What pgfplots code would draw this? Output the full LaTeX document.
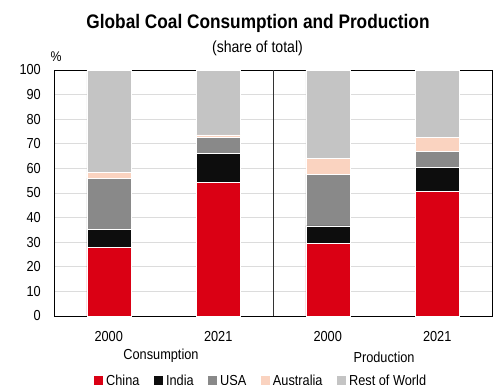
\documentclass[border=0pt]{standalone}
\usepackage{pgfplots}
\pgfplotsset{compat=1.18}
\usepackage{fontspec}
\setmainfont{Liberation Sans}[FakeStretch=0.88]

\definecolor{cChina}{HTML}{DA0014}
\definecolor{cIndia}{HTML}{0D0D0D}
\definecolor{cUSA}{HTML}{898989}
\definecolor{cAus}{HTML}{FAD3C0}
\definecolor{cRest}{HTML}{C4C4C4}
\definecolor{gridgray}{HTML}{DCDCDC}

\newcommand{\lab}{\fontsize{14.5}{17}\selectfont}

\begin{document}
\begin{tikzpicture}[x=1pt,y=1pt]
\useasboundingbox (0,0) rectangle (498,-385);
\clip (0,0) rectangle (498,-385);

\node[anchor=base] at (258,-28.5) {\fontsize{19.6}{22}\selectfont\bfseries Global Coal Consumption and Production};
\node[anchor=base] at (257.5,-52.5) {\fontsize{16}{18}\selectfont (share of total)};
\node[anchor=base,inner sep=0pt] at (56,-62) {\fontsize{14}{16}\selectfont \%};

\begin{axis}[
  at={(54pt,-316pt)}, anchor=south west,
  scale only axis, width=438pt, height=246pt,
  clip=false,
  ybar stacked, bar width=44pt,
  xmin=-0.5, xmax=3.5, ymin=0, ymax=100,
  xtick={0,1,2,3}, xticklabels={2000,2021,2000,2021},
  ytick={0,10,...,100},
  extra x ticks={1.5}, extra x tick labels={},
  extra x tick style={xmajorgrids=true, major grid style={black!80, line width=0.8pt}},
  ymajorgrids, major grid style={gridgray, line width=0.8pt},
  major tick length=0pt,
  axis line style={black, line width=0.8pt},
  /pgf/number format/assume math mode=true,
  yticklabel style={font=\lab, anchor=east, inner sep=0pt, xshift=-13pt},
  xticklabel style={font=\lab, anchor=base, inner sep=0pt, yshift=-25pt},
  legend columns=5,
  legend style={at={(axis description cs:0.0913,-0.238)}, anchor=north west,
    draw=none, fill=none, inner sep=0pt, font=\lab,
    nodes={inner sep=0pt, anchor=base west},
    /tikz/every odd column/.append style={column sep=3pt},
    /tikz/every even column/.append style={column sep=14.5pt}},
  legend image code/.code={\fill[#1, draw=none] (0pt,0pt) rectangle (9pt,9pt);},
]
\addplot[fill=cChina, draw=white, line width=0.4pt] coordinates {(0,28.0) (1,54.2) (2,29.5) (3,50.8)};
\addplot[fill=cIndia, draw=white, line width=0.4pt] coordinates {(0,7.1) (1,11.9) (2,7.1) (3,9.5)};
\addplot[fill=cUSA, draw=white, line width=0.4pt] coordinates {(0,20.9) (1,6.5) (2,21.1) (3,6.7)};
\addplot[fill=cAus, draw=white, line width=0.4pt] coordinates {(0,2.5) (1,1.0) (2,6.5) (3,5.6)};
\addplot[fill=cRest, draw=white, line width=0.4pt] coordinates {(0,41.5) (1,26.4) (2,35.8) (3,27.4)};
\legend{China, India, USA, Australia, Rest of World}

\node[anchor=base, font=\lab] at (axis cs:0.477,0) [yshift=-43.5pt] {Consumption};
\node[anchor=base, font=\lab] at (axis cs:2.514,0) [yshift=-46pt] {Production};
\end{axis}
\end{tikzpicture}
\end{document}
